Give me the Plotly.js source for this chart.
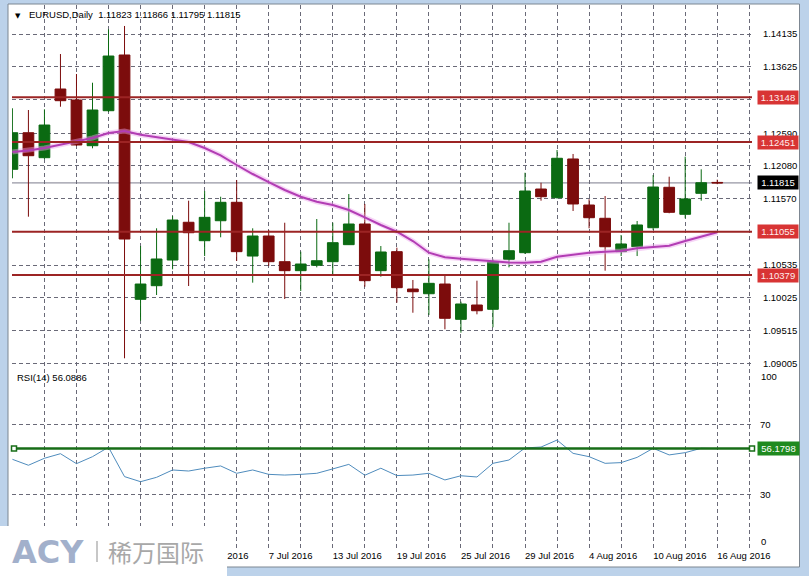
<!DOCTYPE html>
<html><head><meta charset="utf-8">
<script src="https://cdn.plot.ly/plotly-3.0.1.min.js"></script>
<style>html,body{margin:0;padding:0;background:#bcd2ea;}#chart{width:809px;height:576px;}</style>
</head><body><div id="chart"></div>
<script>
// ---- data ----
const dates = ['15 Jun 2016','16 Jun 2016','17 Jun 2016','20 Jun 2016','21 Jun 2016','22 Jun 2016','23 Jun 2016','24 Jun 2016','27 Jun 2016','28 Jun 2016','29 Jun 2016','30 Jun 2016','1 Jul 2016','4 Jul 2016','5 Jul 2016','6 Jul 2016','7 Jul 2016','8 Jul 2016','11 Jul 2016','12 Jul 2016','13 Jul 2016','14 Jul 2016','15 Jul 2016','18 Jul 2016','19 Jul 2016','20 Jul 2016','21 Jul 2016','22 Jul 2016','25 Jul 2016','26 Jul 2016','27 Jul 2016','28 Jul 2016','29 Jul 2016','1 Aug 2016','2 Aug 2016','3 Aug 2016','4 Aug 2016','5 Aug 2016','8 Aug 2016','9 Aug 2016','10 Aug 2016','11 Aug 2016','12 Aug 2016','15 Aug 2016','16 Aug 2016'];
const open  = [1.12027,1.12597,1.12208,1.13278,1.13107,1.12395,1.12940,1.13808,1.10002,1.10214,1.10614,1.11202,1.10915,1.11226,1.11513,1.10676,1.10988,1.10588,1.10448,1.10532,1.10588,1.10853,1.11175,1.10448,1.10744,1.10162,1.10089,1.10240,1.09690,1.09913,1.09846,1.10625,1.10728,1.11720,1.11585,1.12188,1.11471,1.11264,1.10744,1.10821,1.11117,1.11747,1.11326,1.11653,1.11823];
const high  = [1.12978,1.12951,1.12962,1.13823,1.13512,1.13376,1.14208,1.14260,1.10832,1.11108,1.11300,1.11538,1.11689,1.11600,1.11861,1.11108,1.11082,1.11195,1.10744,1.11253,1.11195,1.11642,1.11487,1.10832,1.10806,1.10303,1.10625,1.10381,1.09965,1.10292,1.10625,1.11195,1.11974,1.11818,1.12328,1.12266,1.11560,1.11611,1.11004,1.11222,1.11938,1.11912,1.12224,1.12027,1.11866];
const low   = [1.11887,1.11289,1.12188,1.13002,1.12390,1.12354,1.12920,1.09083,1.09669,1.10069,1.10469,1.10209,1.10676,1.10968,1.10599,1.10261,1.10521,1.10007,1.10131,1.10500,1.10381,1.10848,1.10198,1.10354,1.09949,1.09793,1.09757,1.09535,1.09482,1.09768,1.09566,1.10500,1.10708,1.11538,1.11572,1.11378,1.11108,1.10448,1.10676,1.10676,1.11082,1.11342,1.11264,1.11538,1.11795];
const close = [1.12597,1.12239,1.12717,1.13096,1.12406,1.12951,1.13792,1.10941,1.10240,1.10630,1.11237,1.11039,1.11279,1.11513,1.10744,1.10988,1.10588,1.10448,1.10552,1.10603,1.10884,1.11175,1.10292,1.10739,1.10183,1.10120,1.10251,1.09706,1.09929,1.09824,1.10588,1.10759,1.11689,1.11600,1.12199,1.11487,1.11273,1.10821,1.10864,1.11160,1.11751,1.11357,1.11565,1.11818,1.11815];
const ma    = [1.12297,1.12320,1.12359,1.12409,1.12457,1.12515,1.12593,1.12624,1.12566,1.12530,1.12495,1.12453,1.12359,1.12245,1.12094,1.11954,1.11829,1.11705,1.11600,1.11522,1.11471,1.11393,1.11279,1.11160,1.11055,1.10910,1.10728,1.10656,1.10634,1.10614,1.10594,1.10575,1.10572,1.10588,1.10666,1.10697,1.10728,1.10744,1.10754,1.10797,1.10821,1.10837,1.10910,1.10977,1.11046];
const rsi   = [50.0,46.6,50.6,53.2,47.5,51.5,56.9,40.1,37.2,39.7,43.9,43.3,44.9,46.2,42.0,43.9,41.4,41.0,41.4,42.0,44.5,47.1,40.9,44.9,40.7,41.0,42.0,38.2,40.6,39.9,47.7,49.6,56.5,57.0,61.0,53.4,51.5,47.7,48.1,51.1,56.3,52.5,53.8,56.3,56.0886];
const levels = [1.13148,1.12451,1.11055,1.10379];
const bidPrice = 1.11815;
const rsiLevel = 56.1798;
// price scale: labels hidden behind the level boxes are left blank
const priceTickVals = [1.14135,1.13625,1.13110,1.12590,1.12080,1.11570,1.11055,1.10535,1.10025,1.09515,1.09005];
const priceTickText = ['1.14135','1.13625','','1.12590','1.12080','1.11570','','1.10535','1.10025','1.09515','1.09005'];
const rsiTickVals = [30,70];
const rsiTickText = ['30','70'];
const rsiEdgeLabels = ['100','0'];
const symbolTitle = 'EURUSD,Daily';
const logoLatin = 'ACY';
const logoCJK = '稀万国际';

// ---- geometry helpers ----
const W=809,H=576,ML=12,MR=57,MT=5,MB=28;
const PW=W-ML-MR, PH=H-MT-MB;
const px2x = p => (p-ML)/PW;
const py2y = p => (H-MB-p)/PH;

const idx = dates.map((d,i)=>i);
const gridIdx = []; for(let i=2;i<=46;i+=2) gridIdx.push(i);
// date labels every 4 bars; the ones fully under the logo plate are not shown
const xTickText = gridIdx.map(i => (i%4===0 && i>=12 && i<dates.length) ? dates[i] : '');
const last = dates.length-1;

const GRID = '#6a6a78', DASH = '4px,3px';
const BULL = '#0b6a12', BEAR = '#7c0c0c';

const traces = [
 {type:'candlestick', x:idx, open:open, high:high, low:low, close:close, xaxis:'x', yaxis:'y',
  increasing:{line:{color:BULL,width:1}, fillcolor:BULL},
  decreasing:{line:{color:BEAR,width:1}, fillcolor:BEAR},
  whiskerwidth:0, hoverinfo:'skip'},
 {type:'scatter', mode:'lines', x:idx, y:ma, xaxis:'x', yaxis:'y',
  line:{color:'rgba(235,160,235,0.45)', width:5}, hoverinfo:'skip'},
 {type:'scatter', mode:'lines', x:idx, y:ma, xaxis:'x', yaxis:'y',
  line:{color:'#b23db4', width:2}, hoverinfo:'skip'},
 {type:'scatter', mode:'lines', x:idx, y:rsi, xaxis:'x', yaxis:'y2',
  line:{color:'#4f8cbd', width:1}, hoverinfo:'skip'}
];

const shapes = [
 {type:'rect', layer:'below', xref:'paper', yref:'paper', x0:px2x(8), x1:px2x(799.5), y0:py2y(567), y1:py2y(4),
  fillcolor:'#ffffff', line:{color:'#7d8792', width:1}},
 {type:'line', layer:'below', xref:'paper', yref:'y', x0:0, x1:1, y0:bidPrice, y1:bidPrice, line:{color:'#7c7c8c', width:1}}
];
levels.forEach(l => shapes.push({type:'line', layer:'above', xref:'paper', yref:'y', x0:0, x1:1, y0:l, y1:l,
  line:{color:'#9c2424', width:2}}));
shapes.push({type:'line', layer:'above', xref:'paper', yref:'y2', x0:px2x(14), x1:1, y0:rsiLevel, y1:rsiLevel,
  line:{color:'#176d17', width:2.5}});
[px2x(14), 1].forEach(ax => shapes.push({type:'rect', layer:'above', xref:'paper', yref:'y2',
  xsizemode:'pixel', ysizemode:'pixel', xanchor:ax, yanchor:rsiLevel, x0:-2.5, x1:2.5, y0:-2.5, y1:2.5,
  fillcolor:'#ffffff', line:{color:'#176d17', width:1.5}}));
// logo plate
shapes.push({type:'rect', layer:'above', xref:'paper', yref:'paper', x0:-0.02, x1:px2x(227), y0:py2y(577), y1:py2y(526),
  fillcolor:'#ffffff', line:{width:0}});
shapes.push({type:'line', layer:'above', xref:'paper', yref:'paper', x0:px2x(97), x1:px2x(97), y0:py2y(562), y1:py2y(541),
  line:{color:'#b4b4b4', width:1.5}});

const annotations = [
 {xref:'paper', yref:'paper', x:px2x(18), y:py2y(15.5), xanchor:'center', yanchor:'middle', text:'▼', showarrow:false,
  font:{size:7, color:'#000', family:'DejaVu Sans'}},
 {xref:'paper', yref:'paper', x:px2x(27), y:py2y(15), xanchor:'left', yanchor:'middle', showarrow:false,
  text: symbolTitle + '&nbsp; ' + [open[last],high[last],low[last],close[last]].map(v=>v.toFixed(5)).join(' '),
  font:{size:9.5, color:'#000'}},
 {xref:'paper', yref:'paper', x:px2x(15), y:py2y(377.5), xanchor:'left', yanchor:'middle', showarrow:false,
  text:'RSI(14) ' + rsi[last].toFixed(4), font:{size:9.5, color:'#000'}},
 {xref:'paper', yref:'paper', x:px2x(759), y:py2y(376.5), xanchor:'left', yanchor:'middle', showarrow:false,
  text:rsiEdgeLabels[0], font:{size:9.5, color:'#000'}},
 {xref:'paper', yref:'paper', x:px2x(759), y:py2y(541.5), xanchor:'left', yanchor:'middle', showarrow:false,
  text:rsiEdgeLabels[1], font:{size:9.5, color:'#000'}}
];
levels.forEach(l => annotations.push({xref:'paper', yref:'y', x:px2x(757), y:l, xanchor:'left', yanchor:'middle',
  text:l.toFixed(5), showarrow:false, bgcolor:'#d83434', width:38, height:11, borderpad:1, align:'center',
  font:{size:9.5, color:'#ffecec'}}));
annotations.push({xref:'paper', yref:'y', x:px2x(757), y:bidPrice, xanchor:'left', yanchor:'middle',
  text:bidPrice.toFixed(5), showarrow:false, bgcolor:'#000000', width:38, height:11, borderpad:1, align:'center',
  font:{size:9.5, color:'#ffffff'}});
annotations.push({xref:'paper', yref:'y2', x:px2x(757), y:rsiLevel, xanchor:'left', yanchor:'middle',
  text:rsiLevel.toFixed(4), showarrow:false, bgcolor:'#1f8a1f', width:39, height:11, borderpad:1, align:'center',
  font:{size:9.5, color:'#ffffff'}});
annotations.push({xref:'paper', yref:'paper', x:px2x(10), y:py2y(551.5), xanchor:'left', yanchor:'middle', showarrow:false,
  text:'<b>'+logoLatin+'</b>', font:{family:'DejaVu Sans', size:32, color:'#a2b0cb'}});
annotations.push({xref:'paper', yref:'paper', x:px2x(106), y:py2y(551.5), xanchor:'left', yanchor:'middle', showarrow:false,
  text:logoCJK, font:{family:'Noto Sans CJK SC', size:24, color:'#a8a8a8'}});

const layout = {
 width:W, height:H, margin:{l:ML, r:MR, t:MT, b:MB, pad:0},
 paper_bgcolor:'#bcd2ea', plot_bgcolor:'rgba(0,0,0,0)',
 font:{family:'Liberation Sans, Arial, sans-serif', size:9.5, color:'#000'},
 showlegend:false, boxgap:0.33, boxgroupgap:0,
 xaxis:{anchor:'y2', range:[-0.025, 46.17], tickmode:'array', tickvals:gridIdx, ticktext:xTickText,
   ticklabelposition:'outside right', ticks:'', showgrid:true, gridcolor:GRID, griddash:DASH, gridwidth:1,
   zeroline:false, showline:false, rangeslider:{visible:false}, fixedrange:true},
 yaxis:{domain:[py2y(366), 1], range:[1.089629, 1.145868], side:'right', tickmode:'array',
   tickvals:priceTickVals, ticktext:priceTickText, ticks:'outside', ticklen:8, tickcolor:'rgba(0,0,0,0)',
   showgrid:true, gridcolor:GRID, griddash:DASH, gridwidth:1, zeroline:false, showline:false, fixedrange:true},
 yaxis2:{domain:[0, py2y(369)], range:[-0.69, 101.6], side:'right', tickmode:'array',
   tickvals:rsiTickVals, ticktext:rsiTickText, ticks:'outside', ticklen:5, tickcolor:'rgba(0,0,0,0)',
   showgrid:true, gridcolor:GRID, griddash:DASH, gridwidth:1, zeroline:false, showline:false, fixedrange:true},
 shapes:shapes, annotations:annotations
};
Plotly.newPlot('chart', traces, layout, {staticPlot:true, displayModeBar:false});
</script></body></html>
